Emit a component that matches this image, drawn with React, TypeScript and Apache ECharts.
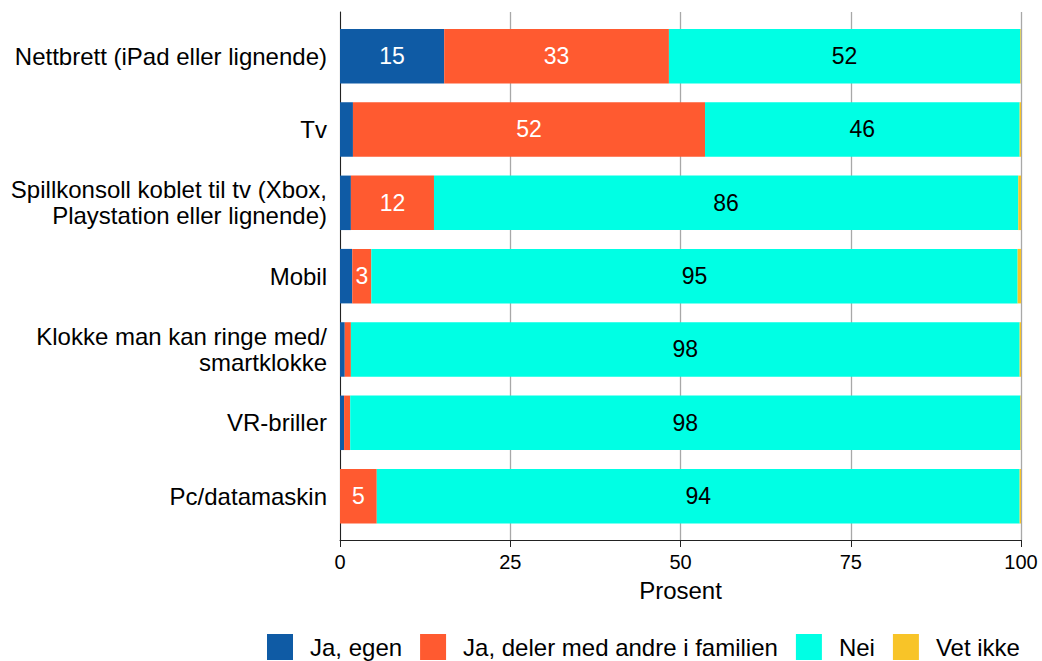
import React, { useEffect, useRef } from "react";
import * as echarts from "echarts";

const categories = [
  "Nettbrett (iPad eller lignende)",
  "Tv",
  "Spillkonsoll koblet til tv (Xbox,\nPlaystation eller lignende)",
  "Mobil",
  "Klokke man kan ringe med/\nsmartklokke",
  "VR-briller",
  "Pc/datamaskin",
];
const seriesNames = ["Ja, egen", "Ja, deler med andre i familien", "Nei", "Vet ikke"];
const jaEgen = [15.3, 1.9, 1.6, 1.8, 0.7, 0.6, 0];
const jaDeler = [33.0, 51.7, 12.2, 2.8, 0.9, 0.9, 5.4];
const nei = [51.6, 46.2, 85.8, 94.9, 98.2, 98.4, 94.4];
const vetIkke = [0.1, 0.2, 0.4, 0.5, 0.2, 0.1, 0.2];
const xTicks = [0, 25, 50, 75, 100];

const colors = ["#0F5BA5", "#FF5A30", "#00FFE4", "#F8C428"];
const labelColors = ["#ffffff", "#ffffff", "#000000", "#000000"];
const FONT = "'Liberation Sans', Arial, sans-serif";

export default function App() {
  const ref = useRef<HTMLDivElement>(null);
  useEffect(() => {
    if (!ref.current) return;
    const chart = echarts.init(ref.current, null, { renderer: "svg" });
    const values = [jaEgen, jaDeler, nei, vetIkke];
    chart.setOption({
      animation: false,
      textStyle: { fontFamily: FONT },
      legend: {
        left: 267,
        top: 634,
        padding: 0,
        itemWidth: 26,
        itemHeight: 26,
        itemGap: 18,
        icon: "rect",
        data: seriesNames,
        textStyle: { fontSize: 24, color: "#000", fontFamily: FONT, padding: [0, 0, 0, 12] },
      },
      grid: [
        { left: 340, width: 681, top: 12, height: 528 },
        { left: 340, width: 681, top: 19.5, height: 513.3 },
      ],
      xAxis: [
        {
          gridIndex: 0,
          type: "value",
          min: xTicks[0],
          max: xTicks[xTicks.length - 1],
          interval: 25,
          name: "Prosent",
          nameLocation: "middle",
          nameGap: 38,
          nameTextStyle: { fontSize: 24, color: "#000", fontFamily: FONT },
          axisLine: { show: true, lineStyle: { color: "#222", width: 1 } },
          axisTick: { show: true, length: 7, lineStyle: { color: "#222" } },
          axisLabel: { fontSize: 20, color: "#000", margin: 12, fontFamily: FONT },
          splitLine: { show: true, lineStyle: { color: "#a8a8a8", width: 1.3 } },
        },
        { gridIndex: 1, type: "value", min: 0, max: 100, show: false },
      ],
      yAxis: [
        {
          gridIndex: 0,
          type: "value",
          min: 0,
          max: 1,
          axisLine: { show: true, lineStyle: { color: "#222", width: 1 } },
          axisTick: { show: false },
          axisLabel: { show: false },
          splitLine: { show: false },
        },
        {
          gridIndex: 1,
          type: "category",
          inverse: true,
          data: categories,
          axisLine: { show: false },
          axisTick: { show: false },
          axisLabel: {
            fontSize: 24,
            color: "#000",
            margin: 13,
            lineHeight: 26,
            align: "right",
            fontFamily: FONT,
          },
        },
      ],
      series: seriesNames.map((name, i) => ({
        name,
        type: "bar",
        xAxisIndex: 1,
        yAxisIndex: 1,
        stack: "total",
        barWidth: 54.5,
        itemStyle: { color: colors[i] },
        label: {
          show: true,
          position: "inside",
          color: labelColors[i],
          fontSize: 23,
          fontFamily: FONT,
          formatter: (p: any) => (p.value >= 2.5 ? String(Math.round(p.value)) : ""),
        },
        data: values[i],
      })),
    });
    return () => chart.dispose();
  }, []);
  return (
    <div
      ref={ref}
      style={{ position: "fixed", left: 0, top: 0, width: 1042, height: 661, background: "#fff" }}
    />
  );
}
